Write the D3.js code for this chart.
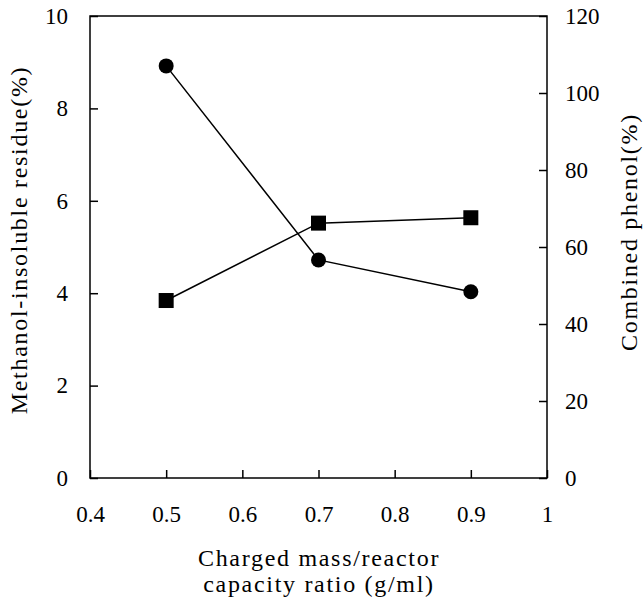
<!DOCTYPE html>
<html>
<head>
<meta charset="utf-8">
<script src="https://cdnjs.cloudflare.com/ajax/libs/d3/7.8.5/d3.min.js"></script>
<style>
  body { margin: 0; background: #fff; }
  svg text { font-family: "Liberation Serif", "Times New Roman", serif; fill: #000; }
  .axis path, .axis line { stroke: #000; stroke-width: 1.5px; }
  .title { font-size: 24px; letter-spacing: 1.7px; }
</style>
</head>
<body>
<svg id="chart" width="644" height="602"></svg>
<script>
// data
var ratios = [0.5, 0.7, 0.9];
var residue = [8.92, 4.72, 4.03];   // left axis, circles
var phenol = [46.1, 66.2, 67.6];    // right axis, squares
var xTicks = [0.4, 0.5, 0.6, 0.7, 0.8, 0.9, 1];
var leftTicks = [0, 2, 4, 6, 8, 10];
var rightTicks = [0, 20, 40, 60, 80, 100, 120];

var svg = d3.select("#chart");
var pLeft = 90, pRight = 547, pTop = 16, pBottom = 478;

var x = d3.scaleLinear().domain([0.4, 1]).range([pLeft, pRight]);
var yL = d3.scaleLinear().domain([0, 10]).range([pBottom, pTop]);
var yR = d3.scaleLinear().domain([0, 120]).range([pBottom, pTop]);

// frame
svg.append("rect")
  .attr("x", pLeft).attr("y", pTop)
  .attr("width", pRight - pLeft).attr("height", pBottom - pTop)
  .attr("fill", "none").attr("stroke", "#000").attr("stroke-width", 1.5);

// axes, ticks pointing inward
var xAxis = svg.append("g").attr("class", "axis")
  .attr("transform", "translate(0," + pBottom + ")")
  .call(d3.axisBottom(x).tickValues(xTicks).tickSize(-8).tickPadding(28)
        .tickFormat(d3.format("")));
xAxis.select(".domain").remove();

var lAxis = svg.append("g").attr("class", "axis")
  .attr("transform", "translate(" + pLeft + ",0)")
  .call(d3.axisLeft(yL).tickValues(leftTicks).tickSize(-8).tickPadding(22));
lAxis.select(".domain").remove();

var rAxis = svg.append("g").attr("class", "axis")
  .attr("transform", "translate(" + pRight + ",0)")
  .call(d3.axisRight(yR).tickValues(rightTicks).tickSize(-8).tickPadding(18));
rAxis.select(".domain").remove();

svg.selectAll(".axis")
  .attr("font-family", null).attr("font-size", null);
svg.selectAll(".axis text")
  .style("font-size", "23px")
  .style("font-family", "'Liberation Serif', 'Times New Roman', serif");

// residue line + circles
var lineL = d3.line().x(function(d, i) { return x(ratios[i]); }).y(function(d) { return yL(d); });
svg.append("path").datum(residue)
  .attr("d", lineL).attr("fill", "none").attr("stroke", "#000").attr("stroke-width", 1.5);
svg.selectAll("circle.res").data(residue).enter().append("circle")
  .attr("class", "res")
  .attr("cx", function(d, i) { return x(ratios[i]); })
  .attr("cy", function(d) { return yL(d); })
  .attr("r", 7.5).attr("fill", "#000");

// phenol line + squares
var lineR = d3.line().x(function(d, i) { return x(ratios[i]); }).y(function(d) { return yR(d); });
svg.append("path").datum(phenol)
  .attr("d", lineR).attr("fill", "none").attr("stroke", "#000").attr("stroke-width", 1.5);
svg.selectAll("rect.phe").data(phenol).enter().append("rect")
  .attr("class", "phe")
  .attr("x", function(d, i) { return x(ratios[i]) - 7.5; })
  .attr("y", function(d) { return yR(d) - 7.5; })
  .attr("width", 15).attr("height", 15).attr("fill", "#000");

// axis titles
svg.append("text").attr("class", "title")
  .attr("transform", "translate(27,240) rotate(-90)")
  .attr("text-anchor", "middle")
  .text("Methanol-insoluble residue(%)");

svg.append("text").attr("class", "title")
  .attr("transform", "translate(637,232) rotate(-90)")
  .attr("text-anchor", "middle")
  .text("Combined phenol(%)");

svg.append("text").attr("class", "title")
  .attr("x", 319).attr("y", 566)
  .attr("text-anchor", "middle")
  .text("Charged mass/reactor");
svg.append("text").attr("class", "title")
  .attr("x", 319).attr("y", 592)
  .attr("text-anchor", "middle")
  .text("capacity ratio (g/ml)");
</script>
</body>
</html>
